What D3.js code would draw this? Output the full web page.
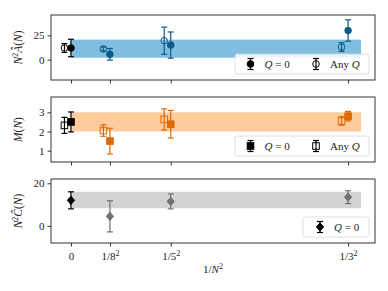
<!DOCTYPE html>
<html>
<head>
<meta charset="utf-8">
<script src="https://cdn.jsdelivr.net/npm/d3@7"></script>
<style>
  body { margin: 0; background: #fff; }
  svg { display: block; }
  text { font-family: "Liberation Serif", "DejaVu Serif", serif; fill: #222; }
</style>
</head>
<body>
<svg width="388" height="291"></svg>
<script>
// x positions are 1/N^2 for N = inf, 8, 5, 3
const xVals = [0, 1 / 64, 1 / 25, 1 / 9];
const xTickBase = ["0", "1/8", "1/5", "1/3"];
const bandX = [0, 0.1163];

// panel A: N^2 A(N)
const aQ0 = [12, 5.5, 15, 30];
const aQ0Err = [9, 6, 13.5, 11];
const aAny = [12, 11, 19.5, 13];
const aAnyErr = [4.5, 2, 14, 4.5];
const aBand = [2, 20.6];

// panel M: M(N)
const mQ0 = [2.5, 1.5, 2.38, 2.8];
const mQ0Err = [0.52, 0.67, 0.72, 0.25];
const mAny = [2.32, 2.05, 2.63, 2.55];
const mAnyErr = [0.42, 0.3, 0.55, 0.22];
const mBand = [2, 3];

// panel C: N^2 C(N)
const cQ0 = [12, 4.5, 11.5, 13.5];
const cQ0Err = [4, 7.3, 3.5, 3];
const cBand = [8.3, 16];

const svg = d3.select("svg");
const left = 51, right = 375;
const x = d3.scaleLinear().domain([-0.008, 0.1219]).range([left, right]);
const offset = -6.5; // "Any Q" points drawn a little left

const panels = [
  {top: 15, bottom: 80, domain: [-21, 46], ticks: [0, 25], band: aBand,
   bandColor: "#80bde0", color: "#0b5a8a", marker: "circle",
   q0: aQ0, q0Err: aQ0Err, any: aAny, anyErr: aAnyErr, label: "A"},
  {top: 97, bottom: 162, domain: [0.41, 3.8], ticks: [1, 2, 3], band: mBand,
   bandColor: "#fdcb9c", color: "#dc6a05", marker: "square",
   q0: mQ0, q0Err: mQ0Err, any: mAny, anyErr: mAnyErr, label: "M"},
  {top: 179, bottom: 243, domain: [-8, 22], ticks: [0, 20], band: cBand,
   bandColor: "#d3d3d3", color: "#707070", marker: "diamond",
   q0: cQ0, q0Err: cQ0Err, any: null, anyErr: null, label: "C"}
];

function drawMarker(g, kind, cx, cy, color, filled) {
  const fill = filled ? color : "none";
  if (kind === "circle") {
    g.append("circle").attr("cx", cx).attr("cy", cy).attr("r", 3.3)
      .attr("fill", fill).attr("stroke", color).attr("stroke-width", 1);
  } else if (kind === "square") {
    g.append("rect").attr("x", cx - 3.3).attr("y", cy - 3.3)
      .attr("width", 6.6).attr("height", 6.6)
      .attr("fill", fill).attr("stroke", color).attr("stroke-width", 1);
  } else {
    const r = 4.2;
    g.append("path")
      .attr("d", `M${cx},${cy - r}L${cx + r * 0.85},${cy}L${cx},${cy + r}L${cx - r * 0.85},${cy}Z`)
      .attr("fill", fill).attr("stroke", color).attr("stroke-width", 1);
  }
}

function drawErr(g, cx, y0, y1, color) {
  g.append("line").attr("x1", cx).attr("x2", cx).attr("y1", y0).attr("y2", y1)
    .attr("stroke", color).attr("stroke-width", 1.2);
  [y0, y1].forEach(yy => g.append("line")
    .attr("x1", cx - 3).attr("x2", cx + 3).attr("y1", yy).attr("y2", yy)
    .attr("stroke", color).attr("stroke-width", 1.2));
}

function drawSeries(g, y, vals, errs, kind, color, filled, dx) {
  vals.forEach((v, i) => {
    const c = i === 0 ? "#000" : color;
    const cx = x(xVals[i]) + dx;
    drawErr(g, cx, y(v - errs[i]), y(v + errs[i]), c);
    drawMarker(g, kind, cx, y(v), c, filled);
  });
}

function ylabel(g, p, cy) {
  const t = g.append("text")
    .attr("transform", `translate(22,${cy}) rotate(-90)`)
    .attr("text-anchor", "middle")
    .style("font-size", "11.5px");
  if (p.label === "M") {
    t.append("tspan").attr("font-style", "italic").text("M");
    t.append("tspan").text("(");
    t.append("tspan").attr("font-style", "italic").text("N");
    t.append("tspan").text(")");
  } else {
    t.append("tspan").attr("font-style", "italic").text("N");
    t.append("tspan").attr("dy", -4).style("font-size", "8px").text("2");
    t.append("tspan").attr("dy", 4).attr("font-style", "italic")
      .text(p.label === "A" ? "\u00C2" : "\u0108");
    t.append("tspan").text("(");
    t.append("tspan").attr("font-style", "italic").text("N");
    t.append("tspan").text(")");
  }
}

function legendLabel(g, lx, ly, kind) {
  const t = g.append("text").attr("x", lx).attr("y", ly).style("font-size", "11px");
  if (kind === "q0") {
    t.append("tspan").attr("font-style", "italic").text("Q");
    t.append("tspan").text(" = 0");
  } else {
    t.append("tspan").text("Any ");
    t.append("tspan").attr("font-style", "italic").text("Q");
  }
}

panels.forEach((p, idx) => {
  const y = d3.scaleLinear().domain(p.domain).range([p.bottom, p.top]);
  const g = svg.append("g");

  // band
  g.append("rect")
    .attr("x", x(bandX[0])).attr("width", x(bandX[1]) - x(bandX[0]))
    .attr("y", y(p.band[1])).attr("height", y(p.band[0]) - y(p.band[1]))
    .attr("fill", p.bandColor);

  // y axis
  const ya = g.append("g").attr("transform", `translate(${left},0)`)
    .call(d3.axisLeft(y).tickValues(p.ticks).tickSize(3.5).tickPadding(3)
      .tickFormat(d3.format("d")));
  ya.select(".domain").remove();
  ya.selectAll("line").attr("stroke", "#333");
  ya.selectAll("text").style("font-family", "'Liberation Serif', serif")
    .style("font-size", "11px").attr("fill", "#222");

  // x axis
  const xa = g.append("g").attr("transform", `translate(0,${p.bottom})`)
    .call(d3.axisBottom(x).tickValues(xVals).tickSize(3.5).tickPadding(4)
      .tickFormat(() => ""));
  xa.select(".domain").remove();
  xa.selectAll("line").attr("stroke", "#333");
  if (idx === 2) {
    xa.selectAll(".tick text").each(function (d, i) {
      const t = d3.select(this).style("font-family", "'Liberation Serif', serif")
        .style("font-size", "11px").attr("fill", "#222").attr("dy", "0.9em");
      t.append("tspan").text(xTickBase[i]);
      if (i > 0) t.append("tspan").attr("dy", -4).style("font-size", "8px").text("2");
    });
  }

  // frame
  g.append("rect").attr("x", left).attr("y", p.top)
    .attr("width", right - left).attr("height", p.bottom - p.top)
    .attr("fill", "none").attr("stroke", "#333").attr("stroke-width", 1);

  // points
  if (p.any) drawSeries(g, y, p.any, p.anyErr, p.marker, p.color, false, offset);
  drawSeries(g, y, p.q0, p.q0Err, p.marker, p.color, true, 0);

  ylabel(g, p, (p.top + p.bottom) / 2);

  // legend
  const lg = g.append("g");
  const lx0 = p.any ? 235 : 303, lx1 = 369;
  const ly0 = p.bottom - 26, ly1 = p.bottom - 6;
  lg.append("rect").attr("x", lx0).attr("y", ly0)
    .attr("width", lx1 - lx0).attr("height", ly1 - ly0)
    .attr("rx", 2.5).attr("fill", "#fff").attr("fill-opacity", 0.85)
    .attr("stroke", "#d6d6d6").attr("stroke-width", 0.8);
  const ym = (ly0 + ly1) / 2;
  const m1 = p.any ? 250.5 : 320;
  drawErr(lg, m1, ym - 5.5, ym + 5.5, "#000");
  drawMarker(lg, p.marker, m1, ym, "#000", true);
  legendLabel(lg, m1 + 14, ym + 4, "q0");
  if (p.any) {
    const m2 = 316;
    drawErr(lg, m2, ym - 5.5, ym + 5.5, "#000");
    drawMarker(lg, p.marker, m2, ym, "#000", false);
    legendLabel(lg, m2 + 14, ym + 4, "any");
  }
});

// x label
const xl = svg.append("text").attr("x", (left + right) / 2).attr("y", 273)
  .attr("text-anchor", "middle").style("font-size", "11px");
xl.append("tspan").text("1/");
xl.append("tspan").attr("font-style", "italic").text("N");
xl.append("tspan").attr("dy", -4).style("font-size", "8px").text("2");
</script>
</body>
</html>
